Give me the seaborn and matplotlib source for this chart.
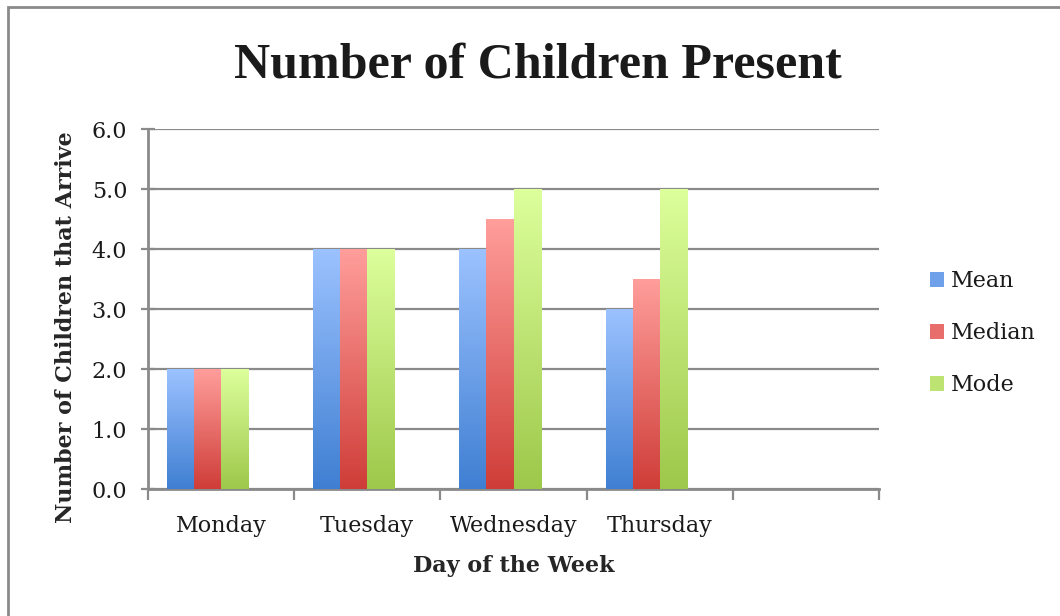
import numpy as np
import pandas as pd
import matplotlib
matplotlib.use("Agg")
import matplotlib.pyplot as plt
import matplotlib.patches as mpatches
from matplotlib.colors import to_rgb
import seaborn as sns

# --- data ---
days = ["Monday", "Tuesday", "Wednesday", "Thursday"]
stats = ["Mean", "Median", "Mode"]
mean_vals = [2.0, 4.0, 4.0, 3.0]
median_vals = [2.0, 4.0, 4.5, 3.5]
mode_vals = [2.0, 4.0, 5.0, 5.0]
y_ticks = [0, 1, 2, 3, 4, 5, 6]

# gradient colours per series (bottom, top)
grad_colors = {
    "Mean": ("#3f7fd2", "#9cc2ff"),
    "Median": ("#cf3d38", "#ff9e9b"),
    "Mode": ("#9dc84a", "#ddff9c"),
}

df = pd.DataFrame({
    "day": days * 3,
    "stat": np.repeat(stats, len(days)),
    "value": mean_vals + median_vals + mode_vals,
})

sns.set_theme(style="white")
plt.rcParams["font.family"] = ["DejaVu Serif"]
plt.rcParams["text.color"] = "#1a1a1a"

fig = plt.figure(figsize=(10.6, 6.16), dpi=100)
ax = fig.add_axes([148 / 1060, 1 - 489 / 616, 731 / 1060, 360 / 616])

# 4th (empty) hue slot and 5th empty category, like the spreadsheet layout
hue_order = stats + [" "]
palette = {s: grad_colors[s][0] for s in stats}
palette[" "] = "#ffffff"
sns.barplot(data=df, x="day", y="value", hue="stat", order=days + [""],
            hue_order=hue_order, palette=palette, width=0.74, gap=0,
            saturation=1, dodge=True, legend=False, ax=ax, zorder=3)

# replace flat fills with vertical gradients
grad_n = 256
for container, s in zip(ax.containers, stats):
    lo = np.array(to_rgb(grad_colors[s][0]))
    hi = np.array(to_rgb(grad_colors[s][1]))
    t = np.linspace(0, 1, grad_n)[:, None, None]
    img = lo + (hi - lo) * t
    for bar in container:
        h = bar.get_height()
        if not np.isfinite(h) or h <= 0:
            continue
        x0 = bar.get_x()
        w = bar.get_width()
        im = ax.imshow(img, extent=[x0, x0 + w, 0, h], origin="lower",
                       aspect="auto", interpolation="bilinear", zorder=3)
        im.set_clip_path(bar)
        bar.set_facecolor("none")
        bar.set_edgecolor("none")

ax.set_xlim(-0.5, 4.5)
ax.set_ylim(0, 6)
ax.set_aspect("auto")

grey = "#8a8a8a"
ax.set_yticks(y_ticks)
ax.set_yticklabels([f"{v:.1f}" for v in y_ticks])
ax.yaxis.grid(True, color=grey, linewidth=1.6)
ax.set_axisbelow(True)

# category boundaries get the tick marks, labels sit in the middle
ax.set_xticks(np.arange(-0.5, 5.0, 1.0))
ax.set_xticklabels([])
ax.set_xticks(np.arange(0, 4), minor=True)
ax.set_xticklabels(days, minor=True)
ax.tick_params(axis="x", which="major", direction="out", length=8, width=1.6,
               color=grey, bottom=True)
ax.tick_params(axis="x", which="minor", length=0, pad=19, labelsize=16,
               labelcolor="#1a1a1a")
ax.tick_params(axis="y", direction="inout", length=10, width=1.6, color=grey,
               left=True, pad=10, labelsize=16, labelcolor="#1a1a1a")

for side in ["top", "right"]:
    ax.spines[side].set_visible(False)
for side in ["left", "bottom"]:
    ax.spines[side].set_color(grey)
    ax.spines[side].set_linewidth(2)

ax.set_xlabel("Day of the Week", fontsize=16, fontweight="bold", va="center")
ax.xaxis.set_label_coords(0.5, -(566 - 489) / 360)
ax.set_ylabel("Number of Children that Arrive", fontsize=16,
              fontweight="bold", va="center")
ax.yaxis.set_label_coords((66 - 148) / 731, (489 - 327) / 360)

fig.text(538 / 1060, 1 - 66 / 616, "Number of Children Present",
         ha="center", va="center", fontsize=36, fontweight="bold",
         family="Liberation Serif")

handles = [mpatches.Rectangle((0, 0), 1, 1,
                              facecolor=sns.blend_palette(grad_colors[s], 3)[1],
                              edgecolor="none") for s in stats]
fig.legend(handles, stats, loc="center left",
           bbox_to_anchor=(930 / 1060, 1 - 333 / 616), frameon=False,
           fontsize=16, handlelength=0.65, handleheight=0.65,
           handletextpad=0.3, labelspacing=1.35, borderpad=0,
           borderaxespad=0)

# thin grey frame around the chart area, as in the screenshot
frame = mpatches.Rectangle((8 / 1060, -0.1), 1.2, 1.1 - 7 / 616,
                           transform=fig.transFigure, fill=False,
                           edgecolor=grey, linewidth=2, clip_on=False)
fig.patches.append(frame)

fig.savefig("out.png", dpi=100)
plt.close(fig)
